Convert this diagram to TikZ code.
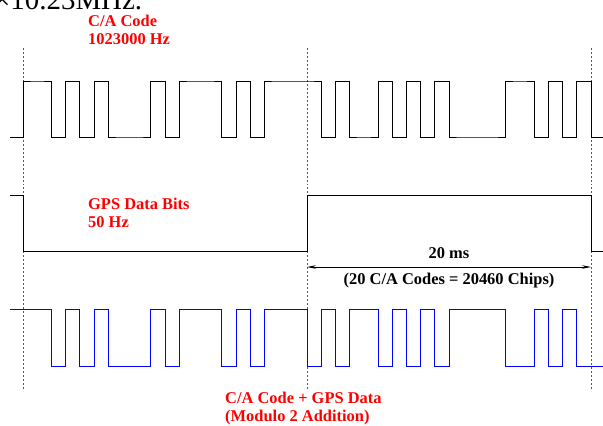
\documentclass[tikz,border=0pt]{standalone}
\usepackage{fontspec}
\setmainfont{Liberation Serif}
\usepackage{tikz}
\usetikzlibrary{arrows.meta, positioning, calc}

\begin{document}
\begin{tikzpicture}[
    x=1bp, y=-1bp,
    wave/.style={line width=0.8pt, line join=miter},
    guide/.style={line width=0.6pt, black!65, dash pattern=on 2pt off 2pt},
    label/.style={font=\fontsize{16.5}{17.5}\selectfont\bfseries, text=red, align=left, inner sep=0pt, anchor=base west},
    note/.style={font=\fontsize{16.5}{17.5}\selectfont\bfseries, inner sep=0pt, anchor=base},
    dim/.style={{Stealth[length=9pt, width=3.5pt]}-{Stealth[length=9pt, width=3.5pt]}, line width=0.7pt}
]
    \useasboundingbox (0,0) rectangle (603,425);
    \def\chip{14.2}

    % cut-off line of page text above
    \node[inner sep=0pt, anchor=base west, font=\fontsize{29}{32}\selectfont] (pagetext) at (-6,9.5) {×10.23MHz.};

    % period guides
    \foreach \gx [count=\k] in {23, 307, 591}
        \draw[guide] (\gx,48) coordinate (g\k top) -- (\gx,390) coordinate (g\k bot);

    % C/A code
    \draw[wave] (10,137) -- (23,137)
        \foreach \b [count=\i] in {1,1,0,1,0,1,0,0,0,1,0,1,1,1,0,1,0,1,1,1,
                                   1,0,1,0,0,1,0,1,0,1,0,0,0,0,1,1,0,1,0,1}
        { |- ({23+\i*\chip}, {137-\b*56}) } |- (603,137);

    % GPS data bits
    \draw[wave] (10,195) -- (23,195) -- (23,251.7) -- (307,251.7) -- (307,195)
        -- (591,195) -- (591,251.7) -- (603,251.7);

    % code + data (modulo 2)
    \draw[wave, blue] (10,309.3) -- (23,309.3)
        \foreach \b [count=\i] in {1,1,0,1,0,1,0,0,0,1,0,1,1,1,0,1,0,1,1,1,
                                   1,0,1,0,0,1,0,1,0,1,0,0,0,0,1,1,0,1,0,1}
        { |- ({23+\i*\chip}, {366-abs(\b-(\i>20))*56.7}) } |- (603,366);

    % labels
    \node[label] (calabel) at (88,44) {C/A Code\\1023000 Hz};
    \node[label] (datalabel) at (88,227) {GPS Data Bits\\50 Hz};
    \node[label] (sumlabel) at (225,421) {C/A Code + GPS Data\\(Modulo 2 Addition)};

    % 20 ms span
    \coordinate (msl) at (307,267);
    \coordinate (msr) at (591,267);
    \draw[dim] (msl) -- (msr);
    \node[note] (ms) at (449,258) {20 ms};
    \node[note] (chips) at (449,284) {(20 C/A Codes = 20460 Chips)};
\end{tikzpicture}
\end{document}
